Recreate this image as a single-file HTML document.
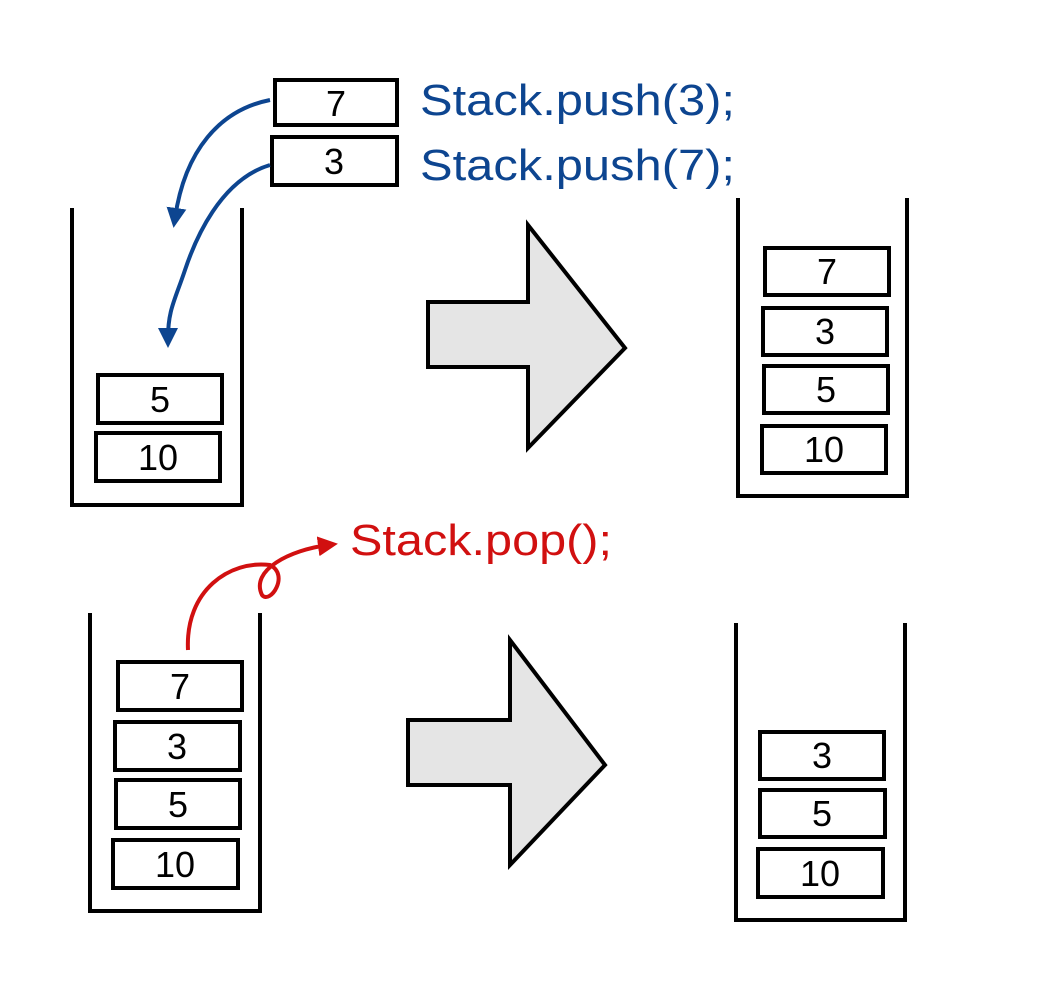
<!DOCTYPE html>
<html><head><meta charset="utf-8"><style>body{margin:0;background:#fff}svg{display:block}</style></head><body>
<svg width="1047" height="1000" viewBox="0 0 1047 1000" xmlns="http://www.w3.org/2000/svg" font-family="Liberation Sans, sans-serif">
<defs>
<marker id="ab" viewBox="0 0 10 10" refX="5" refY="5" markerWidth="5" markerHeight="5" orient="auto"><path d="M0,0 L10,5 L0,10 z" fill="#0d4590"/></marker>
<marker id="ar" viewBox="0 0 10 10" refX="5" refY="5" markerWidth="5" markerHeight="5" orient="auto"><path d="M0,0 L10,5 L0,10 z" fill="#d11010"/></marker>
</defs>
<g fill="none" stroke="#000" stroke-width="4">
<path d="M72,208 V505 H242 V208"/>
<path d="M738,198 V496 H907 V198"/>
<path d="M90,613 V911 H260 V613"/>
<path d="M736,623 V920 H905 V623"/>
<rect x="98" y="375" width="124" height="48"/>
<rect x="96" y="433" width="124" height="48"/>
<rect x="275" y="80" width="122" height="45"/>
<rect x="272" y="137" width="125" height="48"/>
<rect x="765" y="248" width="124" height="47"/>
<rect x="763" y="308" width="124" height="47"/>
<rect x="764" y="366" width="124" height="47"/>
<rect x="762" y="426" width="124" height="47"/>
<rect x="118" y="662" width="124" height="48"/>
<rect x="115" y="722" width="125" height="48"/>
<rect x="116" y="780" width="124" height="48"/>
<rect x="113" y="840" width="125" height="48"/>
<rect x="760" y="732" width="124" height="47"/>
<rect x="760" y="790" width="125" height="47"/>
<rect x="758" y="849" width="125" height="48"/>
</g>
<polygon points="428,302 528,302 528,225 625,348 528,448 528,367 428,367" fill="#e5e5e5" stroke="#000" stroke-width="4"/>
<polygon points="408,720 510,720 510,640 605,765 510,865 510,785 408,785" fill="#e5e5e5" stroke="#000" stroke-width="4"/>
<g font-size="36" text-anchor="middle" fill="#000">
<text x="160" y="412">5</text><text x="158" y="470">10</text>
<text x="336" y="116">7</text><text x="334" y="174">3</text>
<text x="827" y="284">7</text><text x="825" y="344">3</text><text x="826" y="402">5</text><text x="824" y="462">10</text>
<text x="180" y="699">7</text><text x="177" y="759">3</text><text x="178" y="817">5</text><text x="175" y="877">10</text>
<text x="822" y="768">3</text><text x="822" y="826">5</text><text x="820" y="886">10</text>
</g>
<g fill="none" stroke="#0d4590" stroke-width="4">
<path d="M270,100 C220,110 185,150 175,218" marker-end="url(#ab)"/>
<path d="M270,165 C220,180 195,240 185,270 C175,300 168,310 168,338" marker-end="url(#ab)"/>
</g>
<path d="M188,650 C185,590 230,560 270,565 C290,575 270,605 262,595 C250,570 290,550 328,545" fill="none" stroke="#d11010" stroke-width="4" marker-end="url(#ar)"/>
<g font-size="44" fill="#0d4590">
<text x="420" y="115" textLength="315" lengthAdjust="spacingAndGlyphs">Stack.push(3);</text>
<text x="420" y="180" textLength="315" lengthAdjust="spacingAndGlyphs">Stack.push(7);</text>
</g>
<text x="350" y="555" font-size="44" fill="#d11010" textLength="262" lengthAdjust="spacingAndGlyphs">Stack.pop();</text>
</svg>
</body></html>
